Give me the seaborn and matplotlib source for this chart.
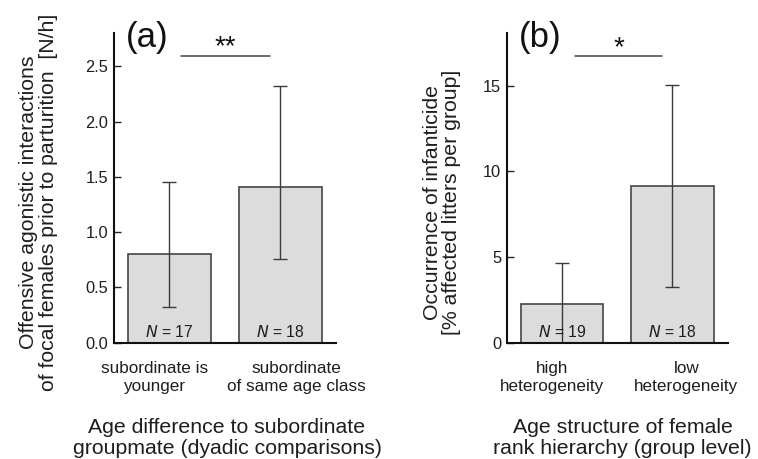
import matplotlib
matplotlib.use("Agg")
import matplotlib.pyplot as plt
import matplotlib.transforms as mtransforms
import numpy as np
import pandas as pd
import seaborn as sns

# Panel (a): offensive agonistic interactions (N/h)
cat_a = ["subordinate is\nyounger", "subordinate\nof same age class"]
mean_a = [0.80, 1.41]
lo_a = [0.32, 0.76]
hi_a = [1.45, 2.32]
n_a = [17, 18]

# Panel (b): occurrence of infanticide (% affected litters per group)
cat_b = ["high\nheterogeneity", "low\nheterogeneity"]
mean_b = [2.26, 9.13]
lo_b = [0.0, 3.23]
hi_b = [4.65, 15.07]
n_b = [19, 18]

sns.set_theme(style="ticks")
plt.rcParams["font.family"] = ["Liberation Sans", "DejaVu Sans"]

fig = plt.figure(figsize=(7.58, 4.59), dpi=100)
ax_a = fig.add_axes([0.1500, 0.2534, 0.2932, 0.6746])
ax_b = fig.add_axes([0.6685, 0.2534, 0.2915, 0.6746])

bar_fill = "#dcdcdc"
bar_edge = "#454545"
err_col = "#3a3a3a"
txt_col = "#1e1e1e"


def panel(ax, cats, means, lo, hi, ns, ylim, yticks, ticklabels, ylabel, xlabel,
          tag, sig_y, sig_text, sig_x, cat_pos, ylab_x, xlab_x):
    df = pd.DataFrame({"cat": cats, "val": means})
    sns.barplot(data=df, x="cat", y="val", ax=ax, color=bar_fill,
                edgecolor=bar_edge, linewidth=1.2, width=0.75, saturation=1,
                errorbar=None)
    x = np.arange(len(cats))
    m = np.array(means)
    yerr = np.vstack([m - np.array(lo), np.array(hi) - m])
    ax.errorbar(x, m, yerr=yerr, fmt="none", ecolor=err_col, elinewidth=1.0,
                capsize=5, capthick=1.0)
    ax.set_xlim(-0.5, 1.5)
    ax.set_ylim(*ylim)
    ax.set_yticks(yticks)
    ax.set_yticklabels(ticklabels, fontsize=11.8, color=txt_col)
    ax.set_xticks(cat_pos)
    ax.set_xticklabels(cats, fontsize=12.3, color=txt_col, linespacing=1.3)
    ax.tick_params(axis="x", length=0, pad=13)
    ax.tick_params(axis="y", length=5, width=1.0, direction="in", pad=4)
    sns.despine(ax=ax)
    for s in ("left", "bottom"):
        ax.spines[s].set_linewidth(1.5)
        ax.spines[s].set_color("#111111")
    ax.set_ylabel(ylabel, fontsize=15.3, color=txt_col, linespacing=1.05)
    ax.yaxis.set_label_coords(ylab_x, 0.454)
    ax.set_xlabel(xlabel, fontsize=15.3, color=txt_col, linespacing=1.15)
    ax.xaxis.set_label_coords(xlab_x, -0.243)
    trans = mtransforms.blended_transform_factory(ax.transData, ax.transAxes)
    for xi, n in zip(x, ns):
        ax.text(xi, 0.035, rf"$\it{{N}}$ = {n}", transform=trans, ha="center",
                va="center", fontsize=11.3, color=txt_col)
    ax.plot(sig_x, [sig_y, sig_y], color="#444444", lw=1.1, clip_on=False)
    star_tr = mtransforms.offset_copy(ax.transData, fig=ax.figure, y=-3.5,
                                      units="points")
    ax.text(np.mean(sig_x), sig_y, sig_text, ha="center", va="bottom",
            fontsize=20, color="#111111", transform=star_tr)
    ax.text(0.055, 0.985, tag, transform=ax.transAxes, ha="left", va="center",
            fontsize=25, color="#111111")


panel(ax_a, cat_a, mean_a, lo_a, hi_a, n_a, (0, 2.8),
      [0, 0.5, 1.0, 1.5, 2.0, 2.5], ["0.0", "0.5", "1.0", "1.5", "2.0", "2.5"],
      "Offensive agonistic interactions\nof focal females prior to parturition  [N/h]",
      "Age difference to subordinate\ngroupmate (dyadic comparisons)",
      "(a)", 2.594, "**", [0.11, 0.905], [-0.135, 1.145], -0.25, 0.51)

panel(ax_b, cat_b, mean_b, lo_b, hi_b, n_b, (0, 18.08),
      [0, 5, 10, 15], ["0", "5", "10", "15"],
      "Occurrence of infanticide\n[% affected litters per group]",
      "Age structure of female\nrank hierarchy (group level)",
      "(b)", 16.72, "*", [0.12, 0.91], [-0.086, 1.127], -0.205, 0.525)

fig.savefig("out.png", dpi=100)
